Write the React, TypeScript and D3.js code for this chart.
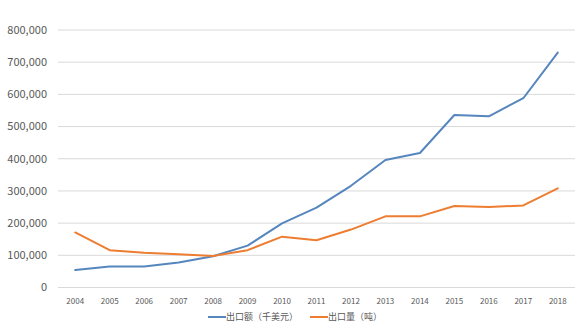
import React from "react";
import * as d3 from "d3";

const years = ["2004","2005","2006","2007","2008","2009","2010","2011","2012","2013","2014","2015","2016","2017","2018"];
const exportValue = [54000,65000,65000,78000,97000,130000,199000,248000,316000,396000,418000,536000,532000,588000,730000];
const exportVolume = [171000,116000,108000,103000,98000,116000,158000,147000,180000,221000,221000,253000,250000,255000,308000];
const yTicks = [0,100000,200000,300000,400000,500000,600000,700000,800000];
const seriesNames = ["出口额（千美元）","出口量（吨）"];
const colors = ["#5586BE","#ED7D31"];

export default function App() {
  const W = 587, H = 336;
  const left = 58, right = 575, top = 30, bottom = 287.5;
  const x = d3.scalePoint<string>().domain(years).range([left, right]).padding(0.5);
  const y = d3.scaleLinear().domain([0, 800000]).range([bottom, top]);
  const fmt = d3.format(",");
  const line = d3.line<number>().x((_, i) => x(years[i])!).y(d => y(d));
  const series = [exportValue, exportVolume];
  const font = "'Microsoft YaHei','Noto Sans CJK SC','DejaVu Sans',sans-serif";
  const legendX = [208, 310];
  return (
    <svg width={W} height={H} style={{ position: "absolute", left: 0, top: 0, background: "#fff" }} fontFamily={font}>
      {yTicks.map(t => (
        <g key={t}>
          <line x1={left} x2={right} y1={y(t)} y2={y(t)} stroke="#d9d9d9" strokeWidth={1} />
          <text x={47} y={y(t)} dy="0.35em" textAnchor="end" fontSize={11} fill="#595959">{fmt(t)}</text>
        </g>
      ))}
      {years.map(yr => (
        <text key={yr} x={x(yr)} y={301} dy="0.35em" textAnchor="middle" fontSize={8} fill="#595959">{yr}</text>
      ))}
      {series.map((s, i) => (
        <path key={i} d={line(s)!} fill="none" stroke={colors[i]} strokeWidth={2} strokeLinejoin="round" strokeLinecap="round" />
      ))}
      {seriesNames.map((n, i) => (
        <g key={n}>
          <line x1={legendX[i]} x2={legendX[i] + 18} y1={317} y2={317} stroke={colors[i]} strokeWidth={2} />
          <text x={legendX[i] + 18} y={317} dy="0.35em" fontSize={9} fill="#595959">{n}</text>
        </g>
      ))}
    </svg>
  );
}
